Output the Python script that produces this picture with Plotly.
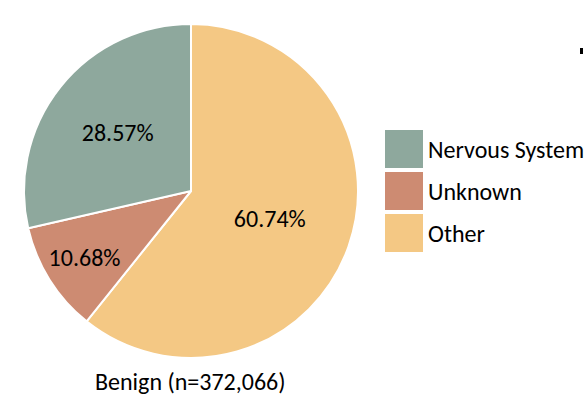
import plotly.graph_objects as go

labels = ["Nervous System", "Unknown", "Other"]
values = [28.57, 10.68, 60.74]
colors = ["#8EA89D", "#CD8B72", "#F4C884"]
title_text = "Benign (n=372,066)"

W, H = 584, 398
FONT = "Calibri, Carlito, Lato, sans-serif"
FS = 24

fig = go.Figure()
# slices drawn clockwise from 12 o'clock in reverse order == counterclockwise in given order
fig.add_trace(go.Pie(
    labels=labels[::-1],
    values=values[::-1],
    sort=False,
    direction="clockwise",
    rotation=0,
    marker=dict(colors=colors[::-1], line=dict(color="white", width=2)),
    texttemplate="%{value:.2f}%",
    textposition="inside",
    insidetextorientation="horizontal",
    textfont=dict(family=FONT, size=FS, color="black"),
    domain=dict(x=[24 / W, 358 / W], y=[40 / H, 374 / H]),
    showlegend=False,
    hoverinfo="label+percent",
))

shapes = []
annotations = []
# custom legend with large swatches
sw_x0, sw_x1 = 385, 423
top = 130
size, gap = 38, 4
for i, (lab, col) in enumerate(zip(labels, colors)):
    y0 = top + i * (size + gap)
    y1 = y0 + size
    shapes.append(dict(type="rect", xref="paper", yref="paper",
                       x0=sw_x0 / W, x1=sw_x1 / W,
                       y0=1 - y1 / H, y1=1 - y0 / H,
                       fillcolor=col, line=dict(width=0)))
    annotations.append(dict(xref="paper", yref="paper",
                            x=426 / W, y=1 - (y0 + size / 2) / H,
                            xanchor="left", yanchor="middle",
                            text=lab, showarrow=False,
                            font=dict(family=FONT, size=FS, color="black")))

# small mark at top right
shapes.append(dict(type="rect", xref="paper", yref="paper",
                   x0=580 / W, x1=583 / W, y0=1 - 54 / H, y1=1 - 48 / H,
                   fillcolor="black", line=dict(width=0)))

annotations.append(dict(xref="paper", yref="paper",
                        x=190 / W, y=1 - 381 / H,
                        xanchor="center", yanchor="middle",
                        text=title_text, showarrow=False,
                        font=dict(family=FONT, size=FS, color="black")))

fig.update_layout(
    width=W, height=H,
    margin=dict(l=0, r=0, t=0, b=0),
    paper_bgcolor="white",
    plot_bgcolor="white",
    shapes=shapes,
    annotations=annotations,
)

fig.write_html("out.html", config={"displayModeBar": False},
               post_script="document.body.style.margin='0';")
